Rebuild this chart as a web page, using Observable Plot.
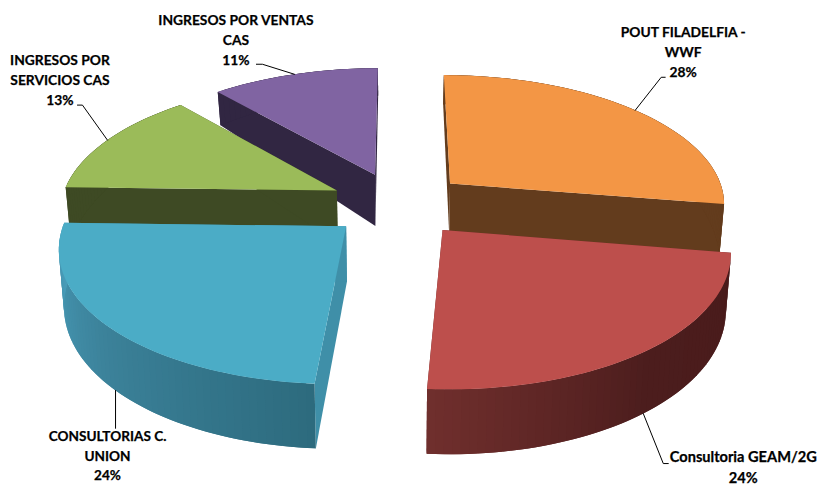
<!DOCTYPE html>
<html><head><meta charset="utf-8">
<script src="https://cdn.jsdelivr.net/npm/d3@7"></script>
<script src="https://cdn.jsdelivr.net/npm/@observablehq/plot@0.6"></script>
<style>html,body{margin:0;padding:0;background:#fff}svg{display:block}</style>
</head><body><div id="chart"></div>
<script>
const categories = ["POUT FILADELFIA -\nWWF","Consultoria GEAM/2G","CONSULTORIAS C.\nUNION","INGRESOS POR\nSERVICIOS CAS","INGRESOS POR VENTAS\nCAS"];
const shares = [27.6,23.5,24.3,13.2,11.4];
const topColors = ["#f39645","#bd4f4c","#4bacc6","#9bbb59","#8064a2"];
const faceColors = ["#633c1d","#6b2d2b","#3f8fa8","#3e4a24","#312642"];
const wallStops = [["#633c1d","#633c1d","#633c1d"],["#491b1b","#4c1d1d","#702f2d"],["#2d6b7e","#3b8199","#4a9ebb"],["#3e4a24","#3e4a24","#3e4a24"],["#312642","#312642","#312642"]];
const drawOrder = [4,3,0,2,1];
// layout of the projected pie
const W=821,H=487,cx=398,cy=203.5,R=276.5,A=129,k=0.14,E=0.25;
const depth = d3.scaleLinear().domain([-1,-0.2,1.2]).range([33,52,65]);
const arcs = d3.pie().sort(null).startAngle(0).endAngle(2*Math.PI)(shares);
const rad = a => a-Math.PI/2;
function geo(i,theta,r=1){
  const m=rad((arcs[i].startAngle+arcs[i].endAngle)/2);
  const X=E*Math.cos(m)+r*Math.cos(theta), Y=E*Math.sin(m)+r*Math.sin(theta), w=1-k*Y;
  return {x:cx+R*X/w,y:cy+A*Y/w,Y};
}
const low = p => ({x:cx+(p.x-cx)*0.985,y:p.y+depth(p.Y)});
const rows=[];
const poly=(id,pts,fill)=>pts.forEach(p=>rows.push({id,x:p.x,y:p.y,fill}));
for(const i of drawOrder){
  const a0=rad(arcs[i].startAngle),a1=rad(arcs[i].endAngle);
  const apex=geo(i,0,0),s=geo(i,a0),e=geo(i,a1);
  poly(`f${i}a`,[apex,s,low(s),low(apex)],faceColors[i]);
  poly(`f${i}b`,[apex,e,low(e),low(apex)],faceColors[i]);
  const n=Math.ceil((a1-a0)/(1.5*Math.PI/180));
  const col=d3.scaleLinear().domain([a0,(a0+a1)/2,a1]).range(wallStops[i]).interpolate(d3.interpolateRgb);
  const th=d3.range(n+1).map(j=>a0+(a1-a0)*j/n);
  for(let j=0;j<n;j++){
    // each strip runs under the next one so no seams show
    const p=geo(i,th[j]),q=geo(i,th[Math.min(j+2,n)]);
    poly(`w${i}_${j}`,[p,q,low(q),low(p)],col((th[j]+th[j+1])/2));
  }
  poly(`t${i}`,[apex,...th.map(t=>geo(i,t))],topColors[i]);
}
// leader lines start at each slice's mid-angle rim (front slices: bottom of wall)
const leaderFront=[false,true,true,false,false];
const anchorTurn=[0,0,-0.8,0,0];
const elbow=[[26,-33],[20,50],[0,38],[-25,-35],[-32,-10]];
const arm=[[4,0],[5,0],[0,0],[-5,0],[-6,0]];
const labelShift=[[48,-60],[100,52],[-8,64],[-47.5,-62],[-58.5,-36]];
const labelSizes=[13.8,14.6,13.6,13.8,13.8];
const leaders=[],labels=[];
arcs.forEach((d,i)=>{
  const g=geo(i,rad((d.startAngle+d.endAngle)/2)+anchorTurn[i]*Math.PI/180);
  const p=leaderFront[i]?low(g):g;
  const q={x:p.x+elbow[i][0],y:p.y+elbow[i][1]};
  [p,q,{x:q.x+arm[i][0],y:q.y+arm[i][1]}].forEach(o=>leaders.push({id:i,x:o.x,y:o.y}));
  labels.push({text:`${categories[i]}\n${Math.round(shares[i])}%`,x:p.x+labelShift[i][0],y:p.y+labelShift[i][1],size:labelSizes[i]});
});
const plot=Plot.plot({
  width:W,height:H,margin:0,
  x:{domain:[0,W],range:[0,W],axis:null},
  y:{domain:[0,H],range:[0,H],axis:null},
  color:{type:"identity"},
  style:{background:"#fff"},
  marks:[
    Plot.line(rows,{x:"x",y:"y",z:"id",fill:"fill",stroke:"none",curve:"linear-closed"}),
    Plot.line(leaders,{x:"x",y:"y",z:"id",stroke:"#000",strokeWidth:1}),
    Plot.text(labels,{x:"x",y:"y",text:"text",fontFamily:"Lato",fontWeight:700,fontSize:"size",lineHeight:1.45,fill:"#000",stroke:"#000",strokeWidth:0.25,textAnchor:"middle"})
  ]
});
document.getElementById("chart").appendChild(plot);
</script></body></html>
